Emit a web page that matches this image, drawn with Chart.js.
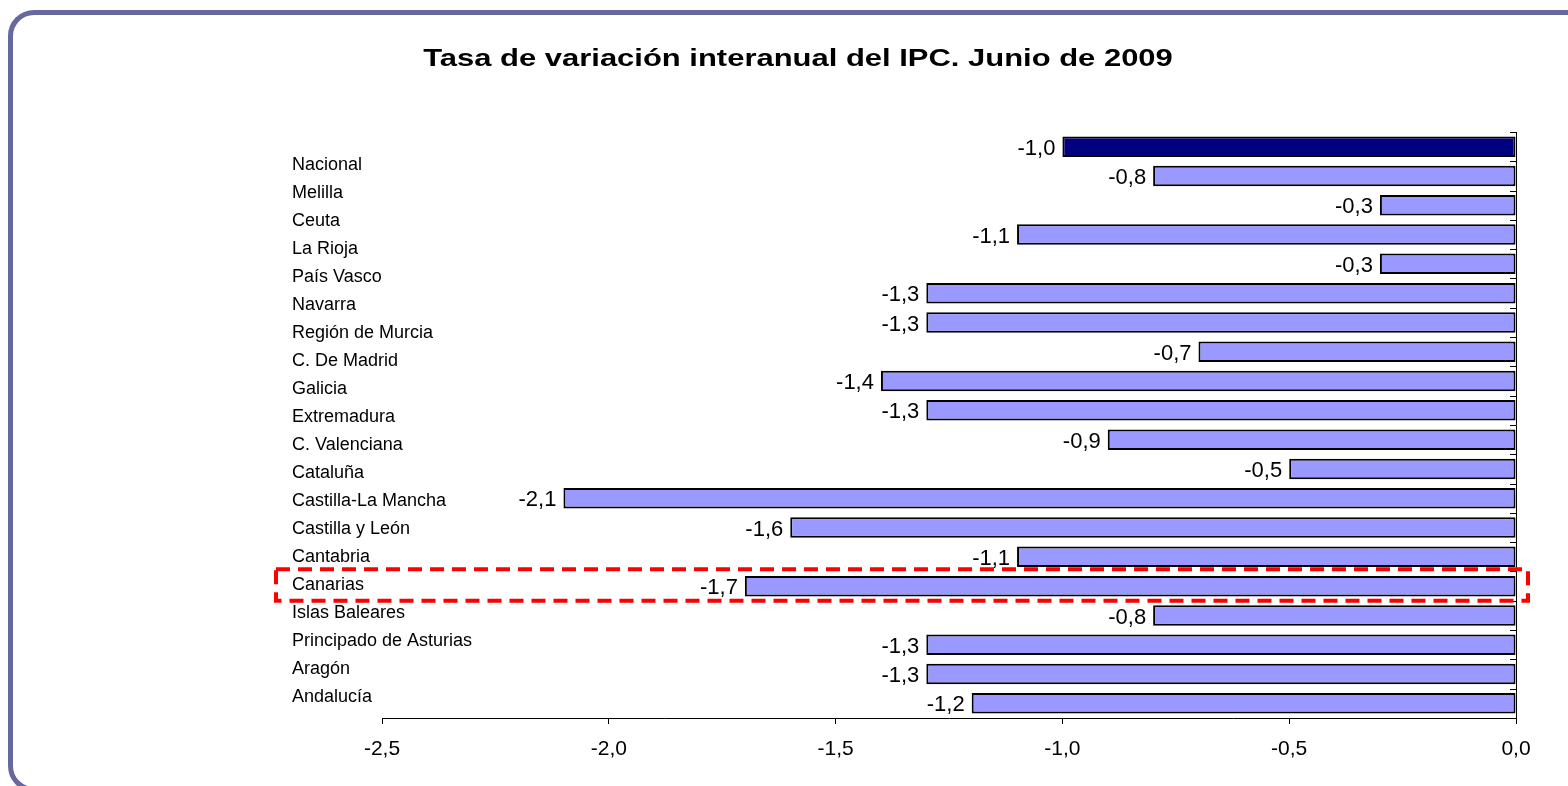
<!DOCTYPE html>
<html lang="es">
<head>
    <meta charset="UTF-8">
    <title>Tasa de variación interanual del IPC. Junio de 2009</title>
    <style>
        * {
            margin: 0;
            padding: 0;
            box-sizing: border-box;
        }
        body {
            background: #ffffff;
            width: 1568px;
            height: 786px;
            overflow: hidden;
            position: relative;
        }
        #frame {
            position: absolute;
            left: 8px;
            top: 10px;
            width: 1620px;
            height: 782px;
            border: 5px solid #67699d;
            border-radius: 26px;
        }
        #chart {
            position: absolute;
            left: 0;
            top: 0;
        }
    </style>
</head>
<body>

    <div id="frame"></div>
    <canvas id="chart" width="1568" height="786"></canvas>

    <script src="https://cdn.jsdelivr.net/npm/chart.js"></script>

    <script>
        // Data (top to bottom)
        const title = 'Tasa de variación interanual del IPC. Junio de 2009';
        const regions = ['Nacional', 'Melilla', 'Ceuta', 'La Rioja', 'País Vasco', 'Navarra', 'Región de Murcia',
            'C. De Madrid', 'Galicia', 'Extremadura', 'C. Valenciana', 'Cataluña', 'Castilla-La Mancha',
            'Castilla y León', 'Cantabria', 'Canarias', 'Islas Baleares', 'Principado de Asturias', 'Aragón', 'Andalucía'];
        const values = [-1.0, -0.8, -0.3, -1.1, -0.3, -1.3, -1.3, -0.7, -1.4, -1.3, -0.9, -0.5, -2.1, -1.6, -1.1, -1.7, -0.8, -1.3, -1.3, -1.2];
        const xMin = -2.5;
        const xMax = 0;
        const xStep = 0.5;
        const highlighted = 'Canarias';

        const barColors = regions.map(r => r === 'Nacional' ? '#000080' : '#9999ff');

        function fmt(v) {
            return v.toFixed(1).replace('.', ',');
        }

        // Labels, data labels, inner ticks, dashed box and title
        const overlay = {
            id: 'overlay',
            afterDraw(chart) {
                const ctx = chart.ctx;
                const area = chart.chartArea;
                const xs = chart.scales.x;
                const ys = chart.scales.y;
                const meta = chart.getDatasetMeta(0);
                const y0 = ys.getPixelForValue(0);
                const step = ys.getPixelForValue(1) - y0;

                ctx.save();
                ctx.fillStyle = '#000';

                // value labels at the end of each bar
                ctx.font = '22px "Liberation Sans", Arial, sans-serif';
                ctx.textAlign = 'right';
                ctx.textBaseline = 'middle';
                meta.data.forEach((bar, i) => {
                    ctx.fillText(fmt(values[i]), bar.x - 7, bar.y + 2);
                });

                // category names, in their own column
                ctx.font = '18px "Liberation Sans", Arial, sans-serif';
                ctx.textAlign = 'left';
                regions.forEach((name, i) => {
                    ctx.fillText(name, area.left - 90, y0 + 18 + i * step * 0.956);
                });

                // small ticks on the zero axis, pointing inward
                ctx.strokeStyle = '#000';
                ctx.lineWidth = 1;
                ctx.beginPath();
                for (let i = 0; i <= regions.length; i++) {
                    const yy = Math.round(y0 + (i - 0.5) * step) + 0.5;
                    ctx.moveTo(area.right - 6, yy);
                    ctx.lineTo(area.right, yy);
                }
                ctx.stroke();

                // dashed red box around the highlighted region
                const cy = ys.getPixelForValue(regions.indexOf(highlighted));
                ctx.strokeStyle = '#ff0000';
                ctx.lineWidth = 4;
                ctx.setLineDash([14, 8]);
                const left = area.left - 106;
                const right = xs.getPixelForValue(0) + 12;
                ctx.strokeRect(left, cy - 17, right - left, 31.5);
                ctx.setLineDash([]);

                // title
                ctx.font = 'bold 24px "Liberation Sans", Arial, sans-serif';
                ctx.textAlign = 'center';
                ctx.translate(798, 59);
                ctx.scale(1.29, 1);
                ctx.fillText(title, 0, 0);
                ctx.restore();
            }
        };

        const ctx = document.getElementById('chart').getContext('2d');
        new Chart(ctx, {
            type: 'bar',
            data: {
                labels: regions,
                datasets: [{
                    data: values,
                    backgroundColor: barColors,
                    borderColor: '#000',
                    borderWidth: 2,
                    borderSkipped: false,
                    barPercentage: 0.7,
                    categoryPercentage: 1
                }]
            },
            options: {
                responsive: false,
                animation: false,
                indexAxis: 'y',
                layout: {
                    padding: { left: 382, right: 52, top: 132, bottom: 24 }
                },
                plugins: {
                    legend: { display: false },
                    tooltip: { enabled: false },
                    title: { display: false }
                },
                scales: {
                    x: {
                        type: 'linear',
                        position: 'bottom',
                        min: xMin,
                        max: xMax,
                        ticks: {
                            stepSize: xStep,
                            callback: v => fmt(v),
                            color: '#000',
                            font: { family: '"Liberation Sans", Arial, sans-serif', size: 21 },
                            padding: 13,
                            maxRotation: 0
                        },
                        grid: {
                            drawOnChartArea: false,
                            drawTicks: true,
                            tickLength: 6,
                            color: '#000'
                        },
                        border: { display: true, color: '#000', width: 1 },
                        afterFit: s => { s.height = 44; }
                    },
                    y: {
                        type: 'category',
                        position: 'right',
                        ticks: { display: false },
                        grid: { display: false },
                        border: { display: true, color: '#000', width: 1 },
                        afterFit: s => { s.width = 0; }
                    }
                }
            },
            plugins: [overlay]
        });
    </script>

</body>
</html>
